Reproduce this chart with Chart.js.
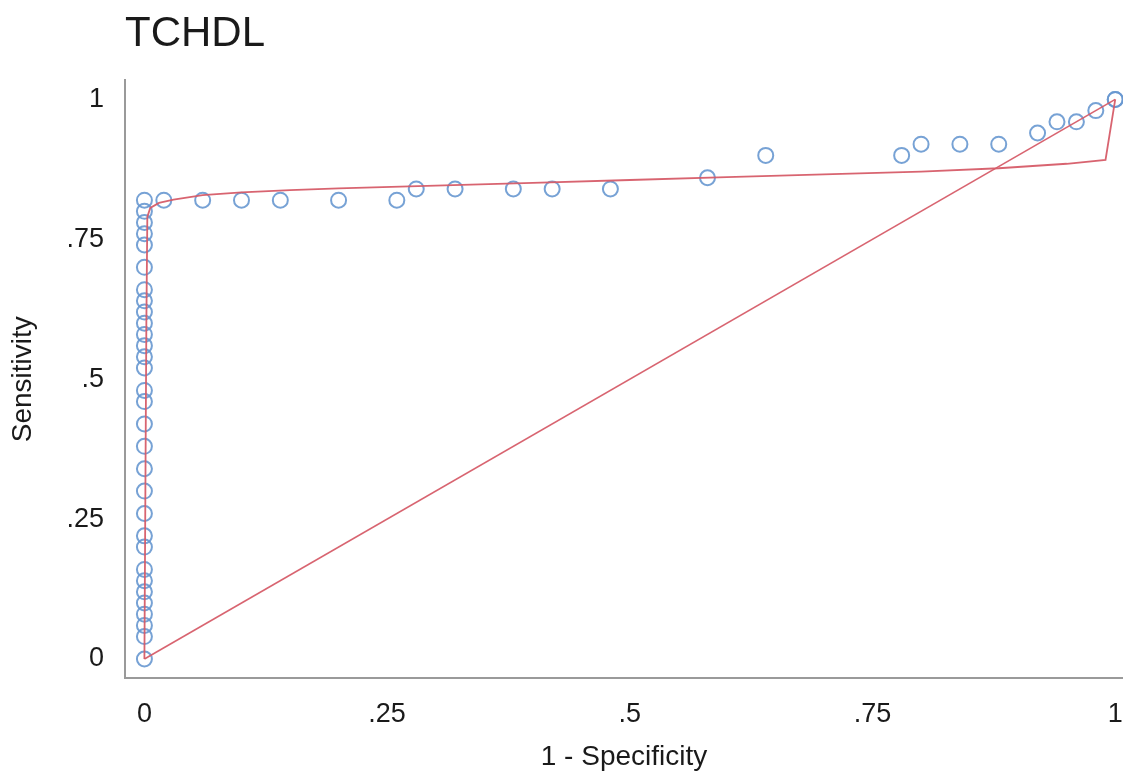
<!DOCTYPE html>
<html lang="en">
<head>
    <meta charset="UTF-8">
    <title>TCHDL ROC</title>
    <script src="https://cdn.jsdelivr.net/npm/chart.js"></script>
    <style>
        html, body {
            margin: 0;
            padding: 0;
            background: #ffffff;
            overflow: hidden;
        }
        #rocChart {
            display: block;
        }
    </style>
</head>
<body>
    <canvas id="rocChart" width="1123" height="771"></canvas>

    <script>
        // observed points (1 - specificity, sensitivity)
        const obsFpr = [0, 0, 0, 0, 0, 0, 0, 0, 0, 0, 0, 0, 0, 0, 0, 0, 0, 0, 0, 0, 0, 0, 0, 0, 0, 0, 0, 0, 0, 0, 0,
            0.02, 0.06, 0.10, 0.14, 0.20, 0.26, 0.28, 0.32, 0.38, 0.42, 0.48, 0.58, 0.64,
            0.78, 0.80, 0.84, 0.88, 0.92, 0.94, 0.96, 0.98, 1, 1];
        const obsTpr = [0.82, 0.80, 0.78, 0.76, 0.74, 0.70, 0.66, 0.64, 0.62, 0.60, 0.58, 0.56, 0.54, 0.52,
            0.48, 0.46, 0.42, 0.38, 0.34, 0.30, 0.26, 0.22, 0.20, 0.16, 0.14, 0.12, 0.10, 0.08, 0.06, 0.04, 0,
            0.82, 0.82, 0.82, 0.82, 0.82, 0.82, 0.84, 0.84, 0.84, 0.84, 0.84, 0.86, 0.90,
            0.90, 0.92, 0.92, 0.92, 0.94, 0.96, 0.96, 0.98, 1, 1];

        // fitted curve
        const fitFpr = [0, 0.002, 0.003, 0.006, 0.015, 0.03, 0.06, 0.10, 0.15, 0.20, 0.30, 0.40,
            0.50, 0.60, 0.70, 0.80, 0.88, 0.95, 0.99, 1];
        const fitTpr = [0, 0.60, 0.79, 0.806, 0.815, 0.821, 0.829, 0.834, 0.838, 0.841, 0.846, 0.851,
            0.856, 0.861, 0.866, 0.871, 0.877, 0.885, 0.892, 1];

        // reference diagonal
        const diagFpr = [0, 1];
        const diagTpr = [0, 1];

        const tickValues = [0, 0.25, 0.5, 0.75, 1];
        const tickLabels = ['0', '.25', '.5', '.75', '1'];

        const toPoints = (xs, ys) => xs.map((x, i) => ({ x: x, y: ys[i] }));

        const blue = 'rgba(104, 152, 208, 0.9)';
        const red = 'rgba(214, 92, 104, 0.95)';
        const axisGrey = '#9a9a9a';
        const textColor = '#1a1a1a';
        const fam = '"Liberation Sans", Arial, sans-serif';

        function fixedTicks(scale) {
            scale.ticks = tickValues.map(v => ({ value: v }));
        }

        const ctx = document.getElementById('rocChart').getContext('2d');
        const rocChart = new Chart(ctx, {
            type: 'scatter',
            data: {
                datasets: [
                    {
                        label: 'Observed',
                        data: toPoints(obsFpr, obsTpr),
                        pointStyle: 'circle',
                        pointRadius: 7.5,
                        pointBorderWidth: 2,
                        pointBackgroundColor: 'rgba(0,0,0,0)',
                        pointBorderColor: blue,
                        showLine: false,
                        clip: false,
                        order: 2
                    },
                    {
                        label: 'Fitted',
                        data: toPoints(fitFpr, fitTpr),
                        showLine: true,
                        borderColor: red,
                        borderWidth: 1.8,
                        pointRadius: 0,
                        tension: 0,
                        clip: false,
                        order: 1
                    },
                    {
                        label: 'Diagonal',
                        data: toPoints(diagFpr, diagTpr),
                        showLine: true,
                        borderColor: red,
                        borderWidth: 1.6,
                        pointRadius: 0,
                        tension: 0,
                        clip: false,
                        order: 1
                    }
                ]
            },
            options: {
                responsive: false,
                animation: false,
                layout: { padding: 0, autoPadding: false },
                plugins: {
                    legend: { display: false },
                    tooltip: { enabled: false },
                    title: {
                        display: true,
                        text: 'TCHDL',
                        align: 'start',
                        fullSize: false,
                        color: textColor,
                        font: { family: fam, size: 42, weight: 'normal', lineHeight: 1.2 },
                        padding: { top: 9, bottom: 21 }
                    }
                },
                scales: {
                    x: {
                        type: 'linear',
                        min: -0.02,
                        max: 1.008,
                        afterBuildTicks: fixedTicks,
                        afterFit: (scale) => {
                            scale.height = 93;
                            scale.paddingLeft = 0;
                            scale.paddingRight = 0;
                        },
                        grid: { display: false, drawTicks: false },
                        border: { display: true, color: axisGrey, width: 2 },
                        ticks: {
                            padding: 20,
                            color: textColor,
                            maxRotation: 0,
                            autoSkip: false,
                            font: { family: fam, size: 27 },
                            callback: (value) => tickLabels[tickValues.indexOf(value)]
                        },
                        title: {
                            display: true,
                            text: '1 - Specificity',
                            color: textColor,
                            font: { family: fam, size: 28, lineHeight: 1 },
                            padding: { top: 0, bottom: 0 }
                        }
                    },
                    y: {
                        type: 'linear',
                        min: -0.034,
                        max: 1.034,
                        afterBuildTicks: fixedTicks,
                        afterFit: (scale) => {
                            scale.width = 125;
                            scale.paddingTop = 0;
                            scale.paddingBottom = 0;
                        },
                        grid: { display: false, drawTicks: false },
                        border: { display: true, color: axisGrey, width: 2 },
                        ticks: {
                            padding: 21,
                            color: textColor,
                            autoSkip: false,
                            font: { family: fam, size: 27 },
                            callback: (value) => tickLabels[tickValues.indexOf(value)]
                        },
                        title: {
                            display: true,
                            text: 'Sensitivity',
                            color: textColor,
                            font: { family: fam, size: 28, lineHeight: 1 },
                            padding: { top: 9, bottom: 0 }
                        }
                    }
                }
            }
        });
    </script>
</body>
</html>
